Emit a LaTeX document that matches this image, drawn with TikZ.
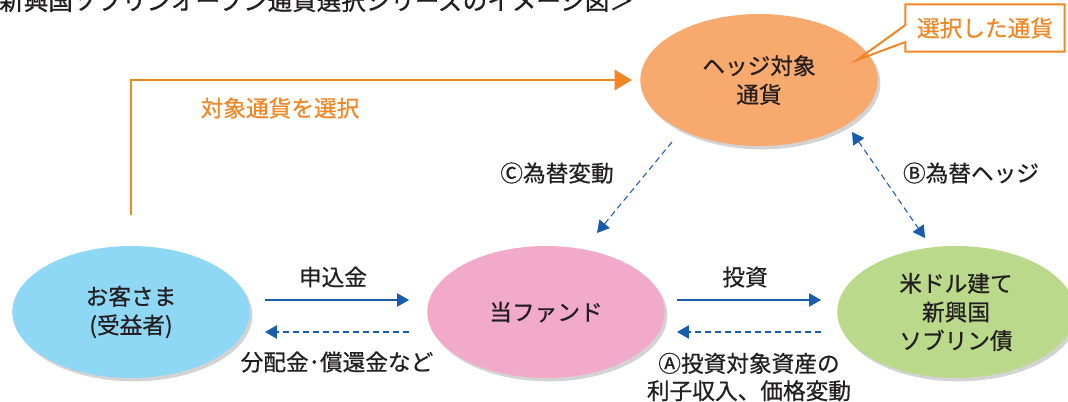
\documentclass[tikz,border=0pt]{standalone}
\usepackage{fontspec}
\setmainfont{Noto Sans CJK JP}[FakeBold=0.6]
\usetikzlibrary{arrows.meta,shapes.geometric,shadows}
\definecolor{hedgeorange}{RGB}{247,169,110}
\definecolor{fundpink}{RGB}{242,170,203}
\definecolor{custblue}{RGB}{142,216,245}
\definecolor{bondgreen}{RGB}{186,217,139}
\definecolor{lineorange}{RGB}{241,134,36}
\definecolor{flowblue}{RGB}{26,92,172}
\definecolor{inkgray}{RGB}{35,31,32}
\begin{document}
\begin{tikzpicture}[x=0.75pt,y=-0.75pt,
  bubble/.style={ellipse,minimum width=178pt,minimum height=99pt,inner sep=0pt,align=center,text=inkgray,
    font=\fontsize{17}{21.5}\selectfont,drop shadow={shadow xshift=2pt,shadow yshift=-2.5pt,opacity=.35}},
  lbl/.style={text=inkgray,align=center,inner sep=0pt,font=\fontsize{17}{20.5}\selectfont},
  flow/.style={draw=flowblue,line width=0.8pt,-{Triangle[length=9pt,width=10pt]}},
  back/.style={flow,dash pattern=on 4.5pt off 3pt},
  both/.style={back,{Triangle[length=9pt,width=10pt]}-{Triangle[length=9pt,width=10pt]}},
  pick/.style={draw=lineorange,line width=2.2pt,-{Triangle[length=13pt,width=15pt]}}]
\useasboundingbox (0,0) rectangle (1068,401);
% title
\node[anchor=base west,inner sep=0pt,text=inkgray,font=\fontsize{18.4}{22}\selectfont] (title) at (-1,10) {新興国ソブリンオープン通貨選択シリーズのイメージ図＞};
% bubbles
\node[bubble,fill=hedgeorange] (hedge) at (759,80) {ヘッジ対象\\通貨};
\node[bubble,fill=custblue] (cust) at (131,312) {お客さま\\(受益者)};
\node[bubble,fill=fundpink] (fund) at (546,312) {当ファンド};
\node[bubble,fill=bondgreen] (bond) at (956,312) {米ドル建て\\新興国\\ソブリン債};
% labels
\node[lbl] (appl) at (333,277) {申込金};
\node[lbl] (dist) at (337,362) {分配金･償還金など};
\node[lbl] (inv) at (745,277) {投資};
\node[lbl] (incA) at (749,377) {Ⓐ投資対象資産の\\利子収入、価格変動};
\node[lbl] (fxC) at (557,173) {Ⓒ為替変動};
\node[lbl] (fxB) at (971,173) {Ⓑ為替ヘッジ};
\node[lbl,text=lineorange] (pickl) at (280,108) {対象通貨を選択};
% money flows
\draw[flow] ([shift={(15,-12)}]cust.east) -- ([shift={(-18,-12)}]fund.west);
\draw[back] ([shift={(-18,20)}]fund.west) -- ([shift={(15,20)}]cust.east);
\draw[flow] ([shift={(12,-12)}]fund.east) -- ([shift={(-16,-12)}]bond.west);
\draw[back] ([shift={(-16,20)}]bond.west) -- ([shift={(12,20)}]fund.east);
% currency effects
\draw[back] ([shift={(-87,62)}]hedge.center) -- ([shift={(51,-79)}]fund.center);
\draw[both] ([shift={(93,52)}]hedge.center) -- ([shift={(-31,-74)}]bond.center);
% selection
\draw[pick] ([yshift=23pt]cust.north) |- ([xshift=-6pt]hedge.west);
% callout
\node[lbl,text=lineorange,minimum width=119pt,minimum height=35pt] (sel) at (985,28) {選択した通貨};
\coordinate (selTip) at ([shift={(98,-20)}]hedge.center);
\draw[draw=lineorange,line width=1.5pt] (sel.north west) -- (sel.north east) -- (sel.south east) -- (sel.south west)
  -- ([shift={(0,14)}]sel.west) -- (selTip) -- ([shift={(0,-3)}]sel.west) -- cycle;
\end{tikzpicture}
\end{document}
